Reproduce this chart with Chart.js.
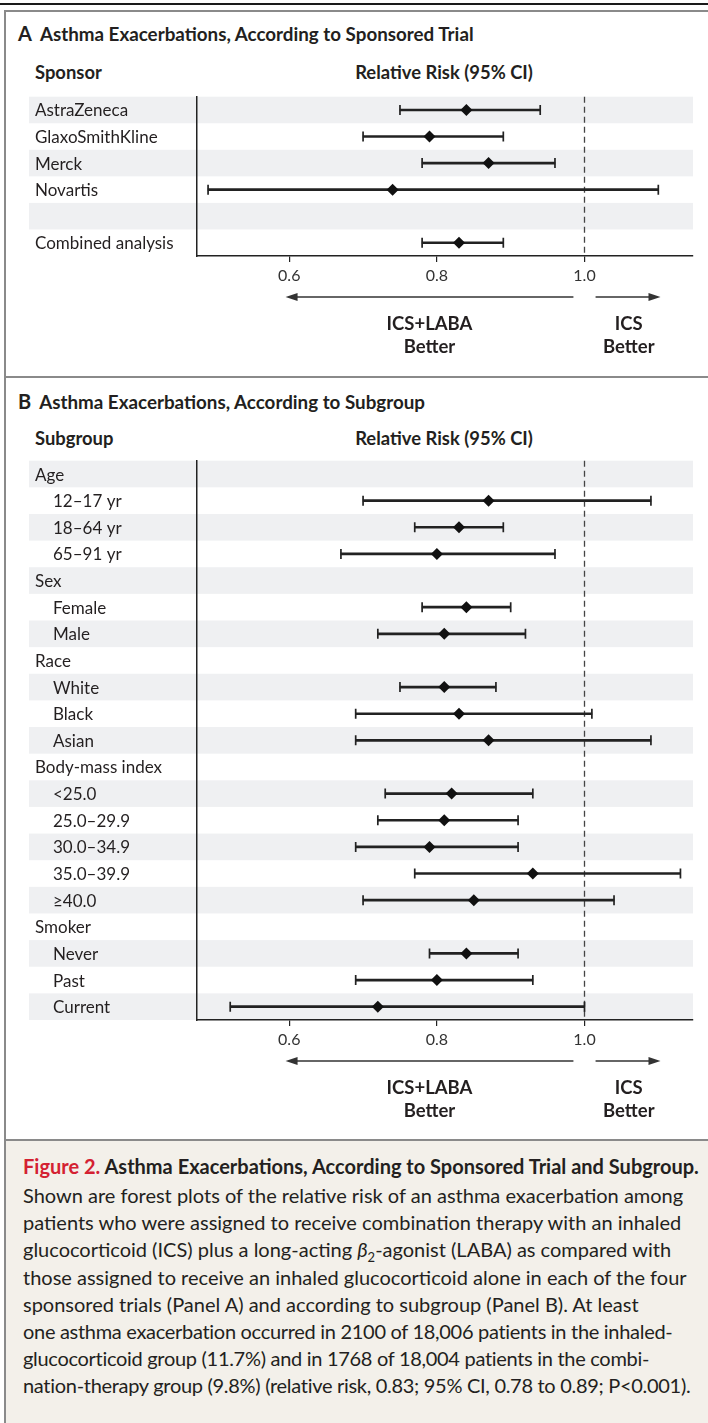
<!DOCTYPE html>
<html>
<head>
<meta charset="utf-8">
<script src="https://cdn.jsdelivr.net/npm/chart.js@4.4.1/dist/chart.umd.min.js"></script>
<style>
  body { margin: 0; background: #fff; font-family: Lato, "Open Sans", sans-serif; color: #231f20; }
  #page { position: relative; width: 708px; height: 1423px; overflow: hidden; }
  .rule { position: absolute; background: #8a8a8a; }
  .title { position: absolute; font-weight: bold; font-size: 18.8px; line-height: 22px; white-space: nowrap; }
  .title .letter { font-size: 20px; margin-right: 8px; }
  .head { position: absolute; font-weight: bold; font-size: 18.4px; line-height: 22px; white-space: nowrap; }
  #caption { position: absolute; left: 6px; top: 1141px; width: 702px; height: 282px; background: #f3f0ea; }
  #capTitle { position: absolute; left: 23px; top: 1152px; font-weight: bold; font-size: 20px; line-height: 28px; white-space: nowrap; }
  #capTitle span { color: #d42132; }
  #capBody { position: absolute; left: 23px; top: 1182px; font-size: 20px; line-height: 27.2px; white-space: nowrap; }
  .tight { letter-spacing: -0.3px; }
  canvas { position: absolute; left: 0; }
</style>
</head>
<body>
<div id="page">
  <div class="rule" style="left:0;top:3px;width:708px;height:2px;background:#1a1a1a"></div>
  <div class="rule" style="left:4px;top:10px;width:704px;height:2px"></div>
  <div class="rule" style="left:4px;top:10px;width:2px;height:1413px"></div>
  <div class="rule" style="left:4px;top:376px;width:704px;height:2px"></div>
  <div id="caption"></div>
  <div class="rule" style="left:4px;top:1139px;width:704px;height:2px"></div>

  <div class="title" style="left:18px;top:22px"><span class="letter">A</span>Asthma Exacerbations, According to Sponsored Trial</div>
  <div class="head" style="left:35px;top:61px">Sponsor</div>
  <div class="head" style="left:444px;top:61px;transform:translateX(-50%)">Relative Risk (95% CI)</div>
  <canvas id="panelA" width="708" height="280" style="top:90px"></canvas>

  <div class="title" style="left:18px;top:390px"><span class="letter">B</span>Asthma Exacerbations, According to Subgroup</div>
  <div class="head" style="left:35px;top:427px">Subgroup</div>
  <div class="head" style="left:444px;top:427px;transform:translateX(-50%)">Relative Risk (95% CI)</div>
  <canvas id="panelB" width="708" height="680" style="top:454px"></canvas>

  <div id="capTitle"><span>Figure 2.</span> Asthma Exacerbations, According to Sponsored Trial and Subgroup.</div>
  <div id="capBody">
    Shown are forest plots of the relative risk of an asthma exacerbation among<br>
    patients who were assigned to receive combination therapy with an inhaled<br>
    glucocorticoid (ICS) plus a long-acting <i>β</i><sub style="font-size:13px;line-height:0">2</sub>-agonist (LABA) as compared with<br>
    those assigned to receive an inhaled glucocorticoid alone in each of the four<br>
    sponsored trials (Panel A) and according to subgroup (Panel B). At least<br>
    <span class="tight">one asthma exacerbation occurred in 2100 of 18,006 patients in the inhaled-</span><br>
    <span class="tight">glucocorticoid group (11.7%) and in 1768 of 18,004 patients in the combi-</span><br>
    <span class="tight">nation-therapy group (9.8%) (relative risk, 0.83; 95% CI, 0.78 to 0.89; P&lt;0.001).</span>
  </div>
</div>

<script>
// Panel A: sponsored trials
const sponsorLabels = ['AstraZeneca', 'GlaxoSmithKline', 'Merck', 'Novartis', '', 'Combined analysis'];
const sponsorRR   = [0.84, 0.79, 0.87, 0.74, null, 0.83];
const sponsorLow  = [0.75, 0.70, 0.78, 0.49, null, 0.78];
const sponsorHigh = [0.94, 0.89, 0.96, 1.10, null, 0.89];

// Panel B: subgroups (null = group heading)
const subgroupLabels = ['Age', '12–17 yr', '18–64 yr', '65–91 yr', 'Sex', 'Female', 'Male',
  'Race', 'White', 'Black', 'Asian', 'Body-mass index', '<25.0', '25.0–29.9', '30.0–34.9',
  '35.0–39.9', '≥40.0', 'Smoker', 'Never', 'Past', 'Current'];
const subgroupRR   = [null, 0.87, 0.83, 0.80, null, 0.84, 0.81, null, 0.81, 0.83, 0.87,
  null, 0.82, 0.81, 0.79, 0.93, 0.85, null, 0.84, 0.80, 0.72];
const subgroupLow  = [null, 0.70, 0.77, 0.67, null, 0.78, 0.72, null, 0.75, 0.69, 0.69,
  null, 0.73, 0.72, 0.69, 0.77, 0.70, null, 0.79, 0.69, 0.52];
const subgroupHigh = [null, 1.09, 0.89, 0.96, null, 0.90, 0.92, null, 0.88, 1.01, 1.09,
  null, 0.93, 0.91, 0.91, 1.13, 1.04, null, 0.91, 0.93, 1.00];

// x axis
const xTicks = [0.6, 0.8, 1.0];
const xMin = 0.475;
const xMax = 1.147;
const refValue = 1.0;

// "better" arrows below the axis
const leftArrow = [0.985, 0.595];
const rightArrow = [1.015, 1.103];
const leftText = ['ICS+LABA', 'Better'];
const rightText = ['ICS', 'Better'];
const leftTextAt = 0.79;
const rightTextAt = 1.06;

const ink = '#231f20';
const band = '#eff0f2';

const forestDecor = {
  id: 'forestDecor',
  beforeDraw(chart) {
    // alternating row bands, reaching out under the labels
    const { ctx, chartArea } = chart;
    const y = chart.scales.y;
    const n = y.getLabels().length;
    const step = (chartArea.bottom - chartArea.top) / n;
    ctx.save();
    ctx.fillStyle = band;
    for (let i = 0; i < n; i += 2) {
      const cy = y.getPixelForValue(i);
      ctx.fillRect(29, cy - step / 2, chartArea.right - 29, step);
    }
    ctx.restore();
  },
  beforeDatasetsDraw(chart) {
    const { ctx, chartArea } = chart;
    const px = chart.scales.x.getPixelForValue(refValue);
    ctx.save();
    ctx.strokeStyle = '#444';
    ctx.lineWidth = 1.3;
    ctx.setLineDash([6, 4]);
    ctx.beginPath();
    ctx.moveTo(px, chartArea.top);
    ctx.lineTo(px, chartArea.bottom);
    ctx.stroke();
    ctx.restore();
  },
  afterDraw(chart, args, opts) {
    const { ctx, chartArea } = chart;
    const x = chart.scales.x, y = chart.scales.y;
    const labels = y.getLabels();
    ctx.save();
    // row labels
    ctx.fillStyle = ink;
    ctx.font = '17px Lato';
    ctx.textBaseline = 'middle';
    ctx.textAlign = 'left';
    labels.forEach((lab, i) => {
      const indent = opts.indent && opts.rr[i] != null ? 18 : 0;
      ctx.fillText(lab, 35 + indent, y.getPixelForValue(i) + 1);
    });
    // arrows
    const ay = chartArea.bottom + 41;
    ctx.strokeStyle = '#333';
    ctx.fillStyle = '#333';
    ctx.lineWidth = 1.5;
    [leftArrow, rightArrow].forEach(([from, to]) => {
      const x0 = x.getPixelForValue(from), x1 = x.getPixelForValue(to);
      const dir = Math.sign(x1 - x0);
      ctx.beginPath();
      ctx.moveTo(x0, ay);
      ctx.lineTo(x1 - dir * 8, ay);
      ctx.stroke();
      ctx.beginPath();
      ctx.moveTo(x1, ay);
      ctx.lineTo(x1 - dir * 12, ay - 4);
      ctx.lineTo(x1 - dir * 12, ay + 4);
      ctx.closePath();
      ctx.fill();
    });
    // arrow captions
    ctx.fillStyle = ink;
    ctx.font = 'bold 18.5px Lato';
    ctx.textAlign = 'center';
    [[leftText, leftTextAt], [rightText, rightTextAt]].forEach(([lines, at]) => {
      const cx = x.getPixelForValue(at);
      ctx.fillText(lines[0], cx, chartArea.bottom + 68);
      ctx.fillText(lines[1], cx, chartArea.bottom + 91);
    });
    ctx.restore();
  }
};

function makeForest(id, labels, rr, low, high, indent) {
  const idx = labels.map((_, i) => i);
  const pts = idx.filter(i => rr[i] != null);
  new Chart(document.getElementById(id), {
    type: 'bar',
    data: {
      labels: labels,
      datasets: [
        {
          type: 'scatter',
          data: pts.map(i => ({ x: rr[i], y: labels[i] })),
          pointStyle: 'rectRot',
          pointRadius: 6,
          backgroundColor: '#111',
          borderColor: '#111',
          borderWidth: 0,
          order: 0
        },
        {
          type: 'scatter',
          data: pts.flatMap(i => [{ x: low[i], y: labels[i] }, { x: high[i], y: labels[i] }]),
          pointStyle: 'line',
          rotation: 90,
          pointRadius: 5,
          borderColor: '#222',
          borderWidth: 1.7,
          order: 1
        },
        {
          type: 'bar',
          data: idx.map(i => rr[i] == null ? null : [low[i], high[i]]),
          backgroundColor: '#222',
          barThickness: 2,
          order: 2
        }
      ]
    },
    options: {
      indexAxis: 'y',
      responsive: false,
      animation: false,
      events: [],
      layout: { padding: { left: 197, right: 15, top: 6, bottom: 84 } },
      plugins: {
        legend: { display: false },
        tooltip: { enabled: false },
        forestDecor: { indent: indent, rr: rr }
      },
      scales: {
        x: {
          type: 'linear',
          min: xMin,
          max: xMax,
          afterBuildTicks: s => { s.ticks = xTicks.map(v => ({ value: v })); },
          afterFit: s => { s.height = 30; },
          border: { display: true, color: '#222', width: 1.5 },
          grid: { drawOnChartArea: false, drawTicks: true, tickLength: 6, tickColor: '#222', lineWidth: 1.2 },
          ticks: {
            padding: 4,
            color: '#333',
            font: { family: 'Lato', size: 16 },
            callback: v => v.toFixed(1)
          }
        },
        y: {
          type: 'category',
          offset: true,
          afterFit: s => { s.width = 0; },
          border: { display: true, color: '#222', width: 1.5 },
          grid: { drawOnChartArea: false, drawTicks: false },
          ticks: { display: false }
        }
      }
    },
    plugins: [forestDecor]
  });
}

makeForest('panelA', sponsorLabels, sponsorRR, sponsorLow, sponsorHigh, false);
makeForest('panelB', subgroupLabels, subgroupRR, subgroupLow, subgroupHigh, true);
</script>
</body>
</html>
